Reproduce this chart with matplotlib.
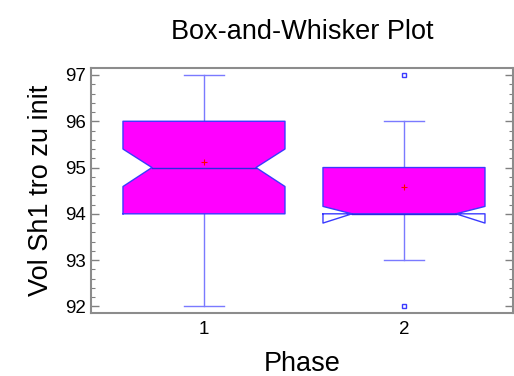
import numpy as np
from matplotlib import pyplot as plt
from matplotlib.ticker import MultipleLocator

# box stats
phases = ['1', '2']
q1 = [94.0, 94.0]
med = [95.0, 94.0]
q3 = [96.0, 95.0]
whis_lo = [92.0, 93.0]
whis_hi = [97.0, 96.0]
ci_lo = [94.59, 93.80]
ci_hi = [95.40, 94.16]
means = [95.11, 94.57]
fliers = [[], [97.0, 92.0]]

plt.rcParams['font.family'] = ['Liberation Sans', 'DejaVu Sans']

fig = plt.figure(figsize=(5.14, 3.76), dpi=100)
ax = fig.add_axes([0.177, 0.168, 0.821, 0.651])

box_w = 0.81    # box width
notch_w = 0.52  # width at the median notch
cap_w = 0.2
edge = '#3a3aff'
whisk = '#7a7aff'

for i, name in enumerate(phases):
    pos = i + 1
    l, r = pos - box_w / 2, pos + box_w / 2
    nl, nr = pos - notch_w / 2, pos + notch_w / 2
    # fill without the folded-over parts of the notch
    lo_f = max(ci_lo[i], q1[i])
    hi_f = min(ci_hi[i], q3[i])
    fx = [l, r, r, nr, r, r, l, l, nl, l]
    fy = [q1[i], q1[i], lo_f, med[i], hi_f, q3[i], q3[i], hi_f, med[i], lo_f]
    ax.fill(fx, fy, color='#ff00ff', lw=0, zorder=2)
    # notched outline
    ox = [l, r, r, nr, r, r, l, l, nl, l, l]
    oy = [q1[i], q1[i], ci_lo[i], med[i], ci_hi[i], q3[i], q3[i], ci_hi[i], med[i], ci_lo[i], q1[i]]
    ax.plot(ox, oy, color=edge, lw=1.0, zorder=3)
    # median
    ax.plot([nl, nr], [med[i], med[i]], color='#2a2ae0', lw=1.0, zorder=3)
    # whiskers and caps
    ax.plot([pos, pos], [whis_lo[i], q1[i]], color=whisk, lw=1.0, zorder=1)
    ax.plot([pos, pos], [q3[i], whis_hi[i]], color=whisk, lw=1.0, zorder=1)
    for w in (whis_lo[i], whis_hi[i]):
        ax.plot([pos - cap_w / 2, pos + cap_w / 2], [w, w], color=whisk, lw=1.0, zorder=1)
    # mean
    ax.plot(pos, means[i], marker='+', color='red', ms=5, mew=0.8, zorder=4)
    # outliers
    if fliers[i]:
        ax.plot([pos] * len(fliers[i]), fliers[i], ls='none', marker='s', ms=3.5,
                mfc='white', mec=edge, mew=1.0, zorder=4, clip_on=False)

ax.set_xlim(0.435, 2.545)
ax.set_ylim(91.86, 97.15)
ax.set_xticks([1, 2])
ax.set_xticklabels(phases)
ax.yaxis.set_major_locator(MultipleLocator(1))
ax.yaxis.set_minor_locator(MultipleLocator(0.2))
ax.tick_params(axis='x', length=0, labelsize=13.5, pad=6)
ax.tick_params(axis='y', which='both', direction='in', left=True, right=True,
               color='#808080', labelsize=13.5)
ax.tick_params(axis='y', which='major', length=6, width=1)
ax.tick_params(axis='y', which='minor', length=3, width=0.8)
for s in ax.spines.values():
    s.set_color('#8c8c8c')
    s.set_linewidth(1.5)

ax.set_title('Box-and-Whisker Plot', fontsize=19.5, pad=21)
ax.set_xlabel('Phase', fontsize=19.5, labelpad=9)
ax.set_ylabel('Vol Sh1 tro zu init', fontsize=19.5, labelpad=8)

plt.savefig('out.png', dpi=100)
